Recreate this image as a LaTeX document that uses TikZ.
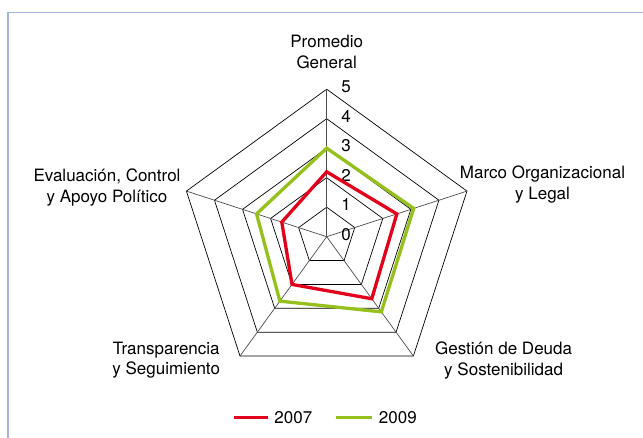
\documentclass[tikz,border=0pt]{standalone}
\usepackage{fontspec}
\setmainfont{TeX Gyre Heros}
\usetikzlibrary{calc}
\definecolor{rojo}{RGB}{226,0,26}
\definecolor{verde}{RGB}{150,192,28}
\definecolor{marco}{RGB}{160,180,222}
\tikzset{
  etiqueta/.style={font=\fontsize{17}{20.7}\selectfont, align=center, inner sep=0pt},
  anillo/.style={black, line width=.7pt},
  serie/.style={line width=3.3pt}
}

\begin{document}
\begin{tikzpicture}[x=29.5pt,y=29.5pt]
\useasboundingbox (-326.7pt,-201.3pt) rectangle (316.3pt,236.7pt);
\draw[marco, line width=1.4pt] (-318.7pt,-215pt)--(-318.7pt,224.2pt)--(330pt,224.2pt);
\foreach \r in {1,...,5} {
 \draw[anillo] (90:\r)--(18:\r)--(-54:\r)--(-126:\r)--(162:\r)--cycle;
 }
\foreach \a in {90,18,-54,-126,162} {
 \draw[black!70, line width=.7pt] (0,0)--(\a:5);
 }
\foreach \r in {0,...,5} {
 \node[etiqueta] (n\r) at (19.3pt,\r*29.5pt+2.5pt) {\r};
 }
\node[etiqueta] (promedio) at (0pt,185pt) {Promedio\\General};
\node[etiqueta] (organizacional) at (215.8pt,52.3pt) {Marco Organizacional\\y Legal};
\node[etiqueta] (deuda) at (176.9pt,-123.6pt) {Gestión de Deuda\\y Sostenibilidad};
\node[etiqueta] (transparencia) at (-160.5pt,-123.6pt) {Transparencia\\y Seguimiento};
\node[etiqueta] (evaluacion) at (-219.7pt,49.4pt) {Evaluación, Control\\y Apoyo Político};
\draw[verde, serie] (90:3.0)--(18:3.1)--(-54:3.15)--(-126:2.7)--(162:2.5)--cycle;
\draw[rojo, serie] (90:2.2)--(18:2.5)--(-54:2.6)--(-126:2.0)--(162:1.6)--cycle;
% leyenda
\node[etiqueta] (a2007) at (-33.4pt,-180.6pt) {2007};
\node[etiqueta] (a2009) at (71.1pt,-180.6pt) {2009};
\draw[rojo, serie] ($(a2007.west)+(-5.8pt,0)$)--++(-34.7pt,0);
\draw[verde, serie] ($(a2009.west)+(-6.8pt,0)$)--++(-35.7pt,0);
\end{tikzpicture}
\end{document}
